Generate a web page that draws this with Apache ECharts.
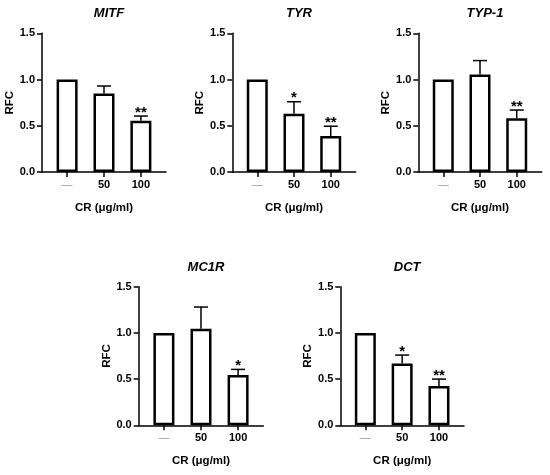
<!DOCTYPE html>
<html>
<head>
<meta charset="utf-8">
<script src="https://cdn.jsdelivr.net/npm/echarts@6/dist/echarts.min.js"></script>
<style>
  html, body { margin: 0; padding: 0; background: #fff; }
  #main { width: 550px; height: 475px; }
</style>
</head>
<body>
<div id="main"></div>
<script>
const genes = ['MITF', 'TYR', 'TYP-1', 'MC1R', 'DCT'];
const doses = ['—', '50', '100'];
const yTicks = [0, 0.5, 1.0, 1.5];

const means = [
  [1.0, 0.85, 0.555],
  [1.0, 0.63, 0.39],
  [1.0, 1.055, 0.58],
  [1.0, 1.045, 0.545],
  [1.0, 0.67, 0.425],
];
const sds = [
  [0, 0.08, 0.05],
  [0, 0.13, 0.105],
  [0, 0.15, 0.09],
  [0, 0.235, 0.06],
  [0, 0.09, 0.075],
];
const stars = [
  ['', '', '**'],
  ['', '*', '**'],
  ['', '', '**'],
  ['', '', '*'],
  ['', '*', '**'],
];

// panel boxes in px: left, top, width, height
const panels = [
  [42, 33.3, 124, 138.7],
  [232.3, 33.3, 123.4, 138.7],
  [418.3, 33.3, 123.4, 138.7],
  [138.7, 286.7, 124.6, 138.6],
  [340.3, 286.7, 123.7, 138.6],
];

const font = 'Liberation Sans, Arial, sans-serif';
const myChart = echarts.init(document.getElementById('main'));

const grid = [], xAxis = [], yAxis = [], series = [], title = [];

panels.forEach((p, i) => {
  grid.push({ left: p[0], top: p[1], width: p[2], height: p[3], containLabel: false });
  title.push({
    text: genes[i],
    left: p[0] + p[2] / 2,
    top: p[1] - 31,
    textAlign: 'center',
    textStyle: { fontFamily: font, fontSize: 13, fontWeight: 'bold', fontStyle: 'italic', color: '#000' },
  });
  xAxis.push({
    type: 'value',
    gridIndex: i,
    min: -0.68,
    max: 2.68,
    name: 'CR (μg/ml)',
    nameLocation: 'middle',
    nameGap: 30,
    nameTextStyle: { fontFamily: font, fontSize: 11.5, fontWeight: 'bold', color: '#000' },
    axisLine: { onZero: false, lineStyle: { color: '#000', width: 1.5 } },
    axisTick: { show: true, length: 5, customValues: [0, 1, 2], lineStyle: { color: '#000', width: 1.5 } },
    axisLabel: {
      customValues: [0, 1, 2],
      formatter: (v) => {
        const k = Math.round(v);
        return k === 0 ? '{d|' + doses[k] + '}' : doses[k];
      },
      margin: 7,
      fontFamily: font,
      fontSize: 11,
      fontWeight: 'bold',
      color: '#000',
      rich: { d: { color: '#999', fontFamily: font, fontSize: 11, fontWeight: 'normal' } },
    },
    splitLine: { show: false },
  });
  yAxis.push({
    type: 'value',
    gridIndex: i,
    min: 0,
    max: 1.5,
    interval: 0.5,
    name: 'RFC',
    nameLocation: 'middle',
    nameGap: 25,
    nameTextStyle: { fontFamily: font, fontSize: 11.5, fontWeight: 'bold', color: '#000' },
    axisLine: { show: true, onZero: false, lineStyle: { color: '#000', width: 1.5 } },
    axisTick: { show: true, length: 5, lineStyle: { color: '#000', width: 1.5 } },
    axisLabel: {
      formatter: (v) => v.toFixed(1),
      margin: 7,
      fontFamily: font,
      fontSize: 11,
      fontWeight: 'bold',
      color: '#000',
    },
    splitLine: { show: false },
  });
  series.push({
    type: 'bar',
    xAxisIndex: i,
    yAxisIndex: i,
    barWidth: 21,
    data: means[i].map((m, k) => [k, m]),
    itemStyle: { color: '#fff', borderColor: '#000', borderWidth: 2.5 },
    silent: true,
    z: 2,
  });
  series.push({
    type: 'custom',
    xAxisIndex: i,
    yAxisIndex: i,
    data: means[i].map((m, k) => [k, m, sds[i][k]]),
    z: 3,
    silent: true,
    renderItem: function (params, api) {
      const x = api.value(0);
      const m = api.value(1);
      const sd = api.value(2);
      const star = stars[i][params.dataIndex];
      const base = api.coord([x, m]);
      const top = api.coord([x, m + sd]);
      const children = [];
      if (sd > 0) {
        children.push({
          type: 'line',
          shape: { x1: base[0], y1: base[1], x2: top[0], y2: top[1] },
          style: { stroke: '#000', lineWidth: 1.5 },
        });
        children.push({
          type: 'line',
          shape: { x1: top[0] - 7, y1: top[1], x2: top[0] + 7, y2: top[1] },
          style: { stroke: '#000', lineWidth: 1.5 },
        });
      }
      if (star) {
        children.push({
          type: 'text',
          x: top[0],
          y: top[1] + 4,
          style: {
            text: star,
            fontFamily: font,
            fontSize: 15,
            fontWeight: 'bold',
            fill: '#000',
            align: 'center',
            verticalAlign: 'bottom',
          },
        });
      }
      return { type: 'group', children: children };
    },
  });
});

myChart.setOption({
  animation: false,
  title: title,
  grid: grid,
  xAxis: xAxis,
  yAxis: yAxis,
  series: series,
});
</script>
</body>
</html>
